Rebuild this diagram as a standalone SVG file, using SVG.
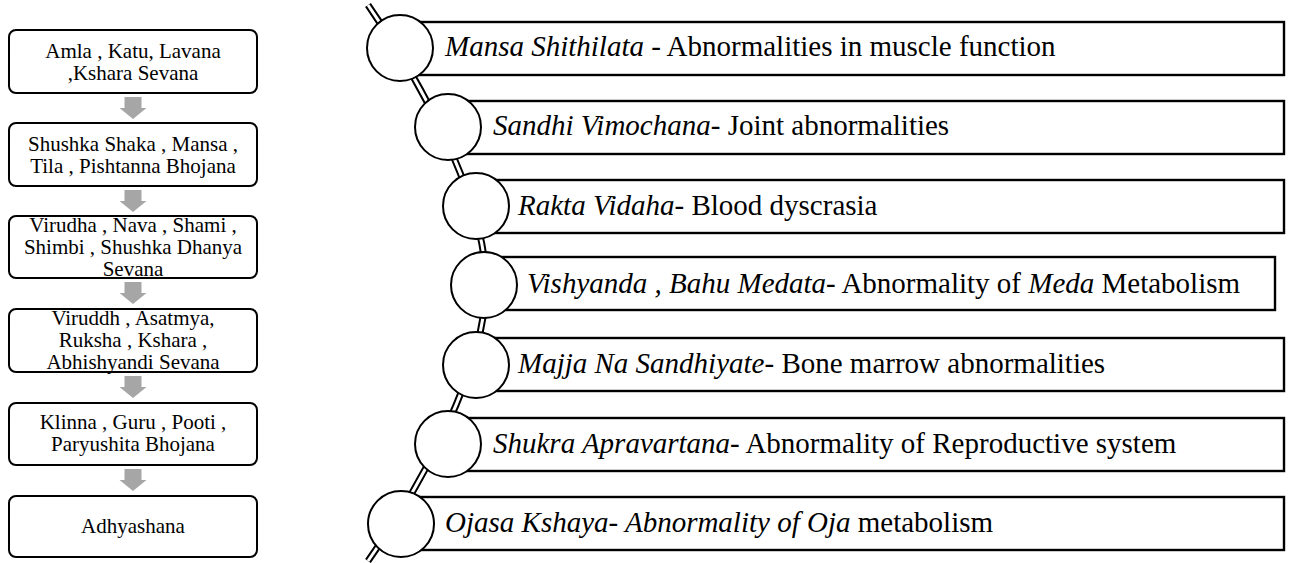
<svg xmlns="http://www.w3.org/2000/svg" width="1292" height="563" viewBox="0 0 1292 563">
<style>
.lb{fill:#fff;stroke:#000;stroke-width:2}
.lt{font-family:"Liberation Serif","Times New Roman",serif;font-size:21px;fill:#000;text-anchor:middle}
.ar{fill:#a6a6a6}
.rb{fill:#fff;stroke:#000;stroke-width:2.4}
.ci{fill:#fff;stroke:#000;stroke-width:2}
.rt{font-family:"Liberation Serif","Times New Roman",serif;font-size:29px;fill:#000}
.i{font-style:italic}
</style>
<defs>
<path id="arw" class="ar" d="M-8.5,0 H8.5 V11 H13.5 L0,22 L-13.5,11 H-8.5 Z"/>
</defs>
<g id="connectors">
<use href="#arw" x="133" y="97"/>
<use href="#arw" x="133" y="190"/>
<use href="#arw" x="133" y="282"/>
<use href="#arw" x="133" y="376"/>
<use href="#arw" x="133" y="469"/>
<path d="M368,5 C420,80 486,200 486,284 C486,368 420,488 368,561" fill="none" stroke="#000" stroke-width="7"/>
<path d="M368,5 C420,80 486,200 486,284 C486,368 420,488 368,561" fill="none" stroke="#fff" stroke-width="3"/>
</g>
<g id="l1"><rect class="lb" x="9" y="30" width="248" height="63" rx="7"/><text class="lt" x="133" y="58">Amla , Katu, Lavana</text><text class="lt" x="133" y="80">,Kshara Sevana</text></g>
<g id="l2"><rect class="lb" x="9" y="123" width="248" height="63" rx="7"/><text class="lt" x="133" y="151">Shushka Shaka , Mansa ,</text><text class="lt" x="133" y="173">Tila , Pishtanna Bhojana</text></g>
<g id="l3"><rect class="lb" x="9" y="216" width="248" height="62" rx="7"/><text class="lt" x="133" y="232">Virudha , Nava , Shami ,</text><text class="lt" x="133" y="254">Shimbi , Shushka Dhanya</text><text class="lt" x="133" y="276">Sevana</text></g>
<g id="l4"><rect class="lb" x="9" y="309" width="248" height="63" rx="7"/><text class="lt" x="133" y="325">Viruddh , Asatmya,</text><text class="lt" x="133" y="347">Ruksha , Kshara ,</text><text class="lt" x="133" y="369">Abhishyandi Sevana</text></g>
<g id="l5"><rect class="lb" x="9" y="403" width="248" height="62" rx="7"/><text class="lt" x="133" y="429">Klinna , Guru , Pooti ,</text><text class="lt" x="133" y="451">Paryushita Bhojana</text></g>
<g id="l6"><rect class="lb" x="9" y="496" width="248" height="61" rx="7"/><text class="lt" x="133" y="533">Adhyashana</text></g>

<g id="r1"><rect class="rb" x="400" y="22" width="884" height="53"/><circle class="ci" cx="400" cy="48" r="33"/><text class="rt" x="445" y="56"><tspan class="i">Mansa Shithilata</tspan> - Abnormalities in muscle function</text></g>
<g id="r2"><rect class="rb" x="448" y="101" width="836" height="53"/><circle class="ci" cx="448" cy="127" r="33"/><text class="rt" x="493" y="135"><tspan class="i">Sandhi Vimochana</tspan>- Joint abnormalities</text></g>
<g id="r3"><rect class="rb" x="476" y="180" width="808" height="53"/><circle class="ci" cx="476" cy="206" r="33"/><text class="rt" x="518" y="215"><tspan class="i">Rakta Vidaha</tspan>- Blood dyscrasia</text></g>
<g id="r4"><rect class="rb" x="484" y="257" width="791" height="53"/><circle class="ci" cx="484" cy="285" r="33"/><text class="rt" x="527" y="293"><tspan class="i">Vishyanda , Bahu Medata</tspan>- Abnormality of <tspan class="i">Meda</tspan> Metabolism</text></g>
<g id="r5"><rect class="rb" x="476" y="338" width="808" height="53"/><circle class="ci" cx="476" cy="365" r="33"/><text class="rt" x="518" y="373"><tspan class="i">Majja Na Sandhiyate</tspan>- Bone marrow abnormalities</text></g>
<g id="r6"><rect class="rb" x="448" y="418" width="836" height="53"/><circle class="ci" cx="448" cy="444" r="33"/><text class="rt" x="493" y="453"><tspan class="i">Shukra Apravartana</tspan>- Abnormality of Reproductive system</text></g>
<g id="r7"><rect class="rb" x="401" y="497" width="883" height="53"/><circle class="ci" cx="401" cy="524" r="33"/><text class="rt" x="445" y="532"><tspan class="i">Ojasa Kshaya- Abnormality of Oja</tspan> metabolism</text></g>
</svg>
